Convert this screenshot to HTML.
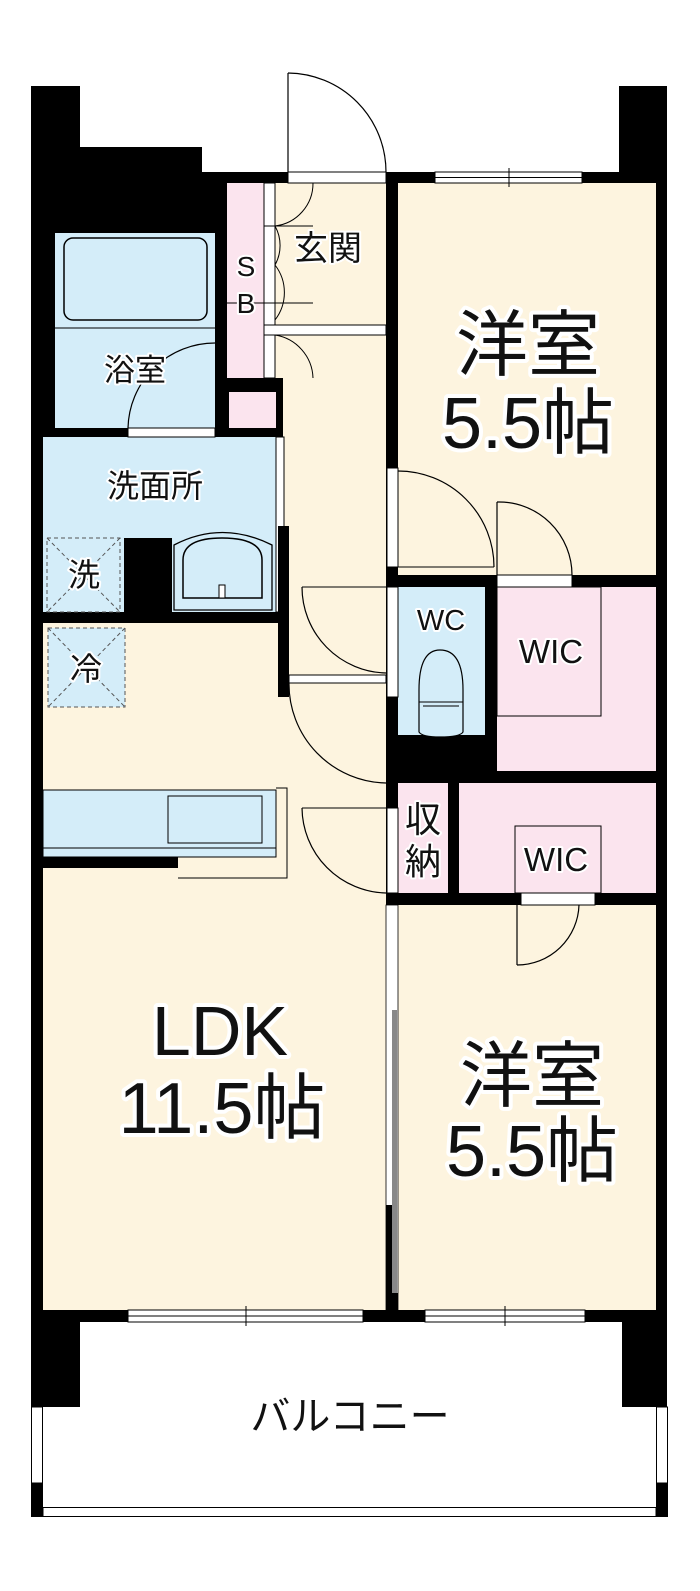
<!DOCTYPE html>
<html><head><meta charset="utf-8"><style>
html,body{margin:0;padding:0;background:#fff;width:700px;height:1591px;overflow:hidden}
svg{display:block}
text{font-family:"Liberation Sans","Noto Sans CJK JP",sans-serif;fill:#111;text-anchor:middle;paint-order:stroke;stroke:#fff;stroke-linejoin:round}
</style></head><body>
<svg width="700" height="1591" viewBox="0 0 700 1591" xmlns="http://www.w3.org/2000/svg">
<rect x="43" y="183" width="613" height="1127" fill="#fdf4df"/>
<rect x="227" y="183" width="37" height="195" fill="#fbe4ee"/>
<rect x="227" y="378" width="56" height="62" fill="#000"/>
<rect x="229" y="392" width="47" height="40" fill="#fbe4ee"/>
<rect x="398" y="587" width="87" height="148" fill="#d4edf9"/>
<rect x="497" y="587" width="159" height="184" fill="#fbe4ee"/>
<rect x="398" y="783" width="50" height="110" fill="#fbe4ee"/>
<rect x="459" y="783" width="197" height="110" fill="#fbe4ee"/>

<rect x="31" y="86" width="49" height="1224" fill="#000"/>
<rect x="31" y="147" width="171" height="86" fill="#000"/>
<rect x="31" y="172" width="196" height="61" fill="#000"/>
<rect x="215" y="172" width="12" height="268" fill="#000"/>
<rect x="227" y="172" width="61" height="11" fill="#000"/>
<rect x="386" y="172" width="281" height="11" fill="#000"/>
<rect x="619" y="86" width="48" height="97" fill="#000"/>
<rect x="656" y="86" width="11" height="1236" fill="#000"/>
<rect x="43" y="437" width="233" height="175" fill="#d4edf9"/>
<rect x="43" y="623" width="246" height="687" fill="#fdf4df"/>
<rect x="55" y="233" width="160" height="195" fill="#d4edf9"/>
<rect x="43" y="428" width="240" height="9" fill="#000"/>
<rect x="128" y="428" width="87" height="9" fill="#fff" stroke="#000" stroke-width="1"/>

<rect x="64" y="238" width="143" height="82" rx="9" fill="none" stroke="#000" stroke-width="1.5"/>
<line x1="55" y1="328" x2="215" y2="328" stroke="#000" stroke-width="1"/>
<path d="M128,428 A87,87 0 0 1 215,343" fill="none" stroke="#000" stroke-width="1.2"/>

<rect x="264" y="183" width="11" height="195" fill="#fff" stroke="#000" stroke-width="1"/>
<line x1="264" y1="226" x2="313" y2="226" stroke="#000" stroke-width="1"/>
<line x1="227" y1="303" x2="313" y2="303" stroke="#000" stroke-width="1"/>
<rect x="264" y="325" width="122" height="10" fill="#fff" stroke="#000" stroke-width="1"/>
<path d="M275,226 A43,43 0 0 0 313,183" fill="none" stroke="#000" stroke-width="1"/>
<path d="M275,265 A45,45 0 0 1 275,320 M275,226 A40,40 0 0 1 275,265" fill="none" stroke="#000" stroke-width="1"/>
<path d="M275,335 A45,45 0 0 1 313,378" fill="none" stroke="#000" stroke-width="1"/>
<rect x="288" y="172" width="98" height="11" fill="#fff" stroke="#000" stroke-width="1"/>
<line x1="288" y1="73" x2="288" y2="172" stroke="#000" stroke-width="1.2"/>
<path d="M288,73 A99,99 0 0 1 386,172" fill="none" stroke="#000" stroke-width="1.2"/>
<rect x="386" y="172" width="12" height="1150" fill="#000"/>

<rect x="276" y="437" width="8" height="175" fill="#fff" stroke="#000" stroke-width="1"/>
<rect x="278" y="526" width="11" height="171" fill="#000"/>
<rect x="43" y="612" width="246" height="11" fill="#000"/>
<rect x="47" y="538" width="73" height="74" fill="#d4edf9" stroke="#555" stroke-width="1" stroke-dasharray="4,3"/>
<path d="M47,538 L120,612 M120,538 L47,612" stroke="#555" stroke-width="1" stroke-dasharray="4,3"/>
<rect x="124" y="538" width="48" height="74" fill="#000"/>
<path d="M174,610 L174,545 Q222,520 272,545 L272,610 Z" fill="#d4edf9" stroke="#000" stroke-width="1.3"/>
<path d="M183,598 L183,560 Q183,538 222,538 Q262,538 262,560 L262,598 Z" fill="none" stroke="#000" stroke-width="1.5"/>
<rect x="219" y="585" width="6" height="13" fill="#fff" stroke="#000" stroke-width="1"/>
<rect x="48" y="628" width="77" height="79" fill="#d4edf9" stroke="#555" stroke-width="1" stroke-dasharray="4,3"/>
<path d="M48,628 L125,707 M125,628 L48,707" stroke="#555" stroke-width="1" stroke-dasharray="4,3"/>
<rect x="43" y="790" width="233" height="67" fill="#d4edf9" stroke="#000" stroke-width="1"/>
<rect x="168" y="796" width="94" height="47" fill="#d4edf9" stroke="#000" stroke-width="1"/>
<line x1="43" y1="848" x2="276" y2="848" stroke="#000" stroke-width="1"/>
<rect x="43" y="857" width="135" height="11" fill="#000"/>
<path d="M276,788 L287,788 L287,878 L178,878" fill="none" stroke="#000" stroke-width="1"/>

<line x1="302" y1="587" x2="386" y2="587" stroke="#000" stroke-width="1"/>
<path d="M302,587 A86,86 0 0 0 386,673" fill="none" stroke="#000" stroke-width="1.2"/>
<rect x="289" y="675" width="97" height="8" fill="#fff" stroke="#000" stroke-width="1"/>
<path d="M289,683 A99,99 0 0 0 386,783" fill="none" stroke="#000" stroke-width="1.2"/>
<line x1="302" y1="808" x2="386" y2="808" stroke="#000" stroke-width="1"/>
<path d="M302,808 A86,86 0 0 0 386,893" fill="none" stroke="#000" stroke-width="1.2"/>

<rect x="386" y="575" width="281" height="12" fill="#000"/>
<rect x="485" y="587" width="12" height="196" fill="#000"/>
<rect x="386" y="735" width="111" height="48" fill="#000"/>
<rect x="386" y="771" width="281" height="12" fill="#000"/>
<rect x="448" y="783" width="11" height="110" fill="#000"/>
<rect x="386" y="893" width="281" height="12" fill="#000"/>
<rect x="497" y="587" width="104" height="129" fill="none" stroke="#000" stroke-width="1"/>
<rect x="515" y="826" width="86" height="67" fill="none" stroke="#000" stroke-width="1"/>
<rect x="521" y="893" width="74" height="12" fill="#fff" stroke="#000" stroke-width="1"/>
<path d="M419,732 L419,690 Q419,650 440,650 Q463,650 463,690 L463,732 Q460,737 440,737 Q422,737 419,732 Z" fill="#d4edf9" stroke="#000" stroke-width="1.2"/>
<line x1="419" y1="702" x2="463" y2="702" stroke="#000" stroke-width="1"/>
<line x1="423" y1="706" x2="459" y2="706" stroke="#000" stroke-width="1"/>
<rect x="387" y="468" width="11" height="99" fill="#fff" stroke="#000" stroke-width="1"/>
<path d="M398,471 A96,96 0 0 1 494,567" fill="none" stroke="#000" stroke-width="1.2"/>
<line x1="398" y1="567" x2="494" y2="567" stroke="#000" stroke-width="1"/>
<rect x="497" y="575" width="75" height="12" fill="#fff" stroke="#000" stroke-width="1"/>
<line x1="497" y1="502" x2="497" y2="575" stroke="#000" stroke-width="1.2"/>
<path d="M497,502 A73,73 0 0 1 572,575" fill="none" stroke="#000" stroke-width="1.2"/>
<rect x="387" y="587" width="11" height="110" fill="#fff" stroke="#000" stroke-width="1"/>
<rect x="387" y="808" width="11" height="85" fill="#fff" stroke="#000" stroke-width="1"/>
<line x1="517" y1="905" x2="517" y2="965" stroke="#000" stroke-width="1.2"/>
<path d="M517,965 A62,62 0 0 0 579,905" fill="none" stroke="#000" stroke-width="1.2"/>

<rect x="386" y="905" width="12" height="405" fill="#fff" stroke="#000" stroke-width="0.8"/>
<rect x="392" y="1010" width="5" height="300" fill="#888"/>
<rect x="386" y="1205" width="6" height="105" fill="#000"/>
<rect x="386" y="1293" width="12" height="17" fill="#000"/>

<rect x="435" y="172" width="147" height="11" fill="#fff" stroke="#000" stroke-width="1"/>
<line x1="435" y1="177.5" x2="582" y2="177.5" stroke="#000" stroke-width="1"/>
<line x1="509" y1="168" x2="509" y2="187" stroke="#000" stroke-width="1"/>

<rect x="31" y="1310" width="636" height="12" fill="#000"/>
<rect x="31" y="1310" width="49" height="97" fill="#000"/>
<rect x="622" y="1310" width="45" height="97" fill="#000"/>
<rect x="128" y="1310" width="235" height="12" fill="#fff" stroke="#000" stroke-width="1"/>
<line x1="128" y1="1316" x2="363" y2="1316" stroke="#000" stroke-width="1"/>
<line x1="246" y1="1306" x2="246" y2="1326" stroke="#000" stroke-width="1"/>
<rect x="425" y="1310" width="160" height="12" fill="#fff" stroke="#000" stroke-width="1"/>
<line x1="425" y1="1316" x2="585" y2="1316" stroke="#000" stroke-width="1"/>
<line x1="505" y1="1306" x2="505" y2="1326" stroke="#000" stroke-width="1"/>
<rect x="31.5" y="1407" width="11" height="76" fill="#fff" stroke="#000" stroke-width="1"/>
<rect x="656.5" y="1407" width="11" height="76" fill="#fff" stroke="#000" stroke-width="1"/>
<rect x="31" y="1483" width="12" height="34" fill="#000"/>
<rect x="656" y="1483" width="12" height="34" fill="#000"/>
<rect x="43" y="1507.5" width="613" height="9" fill="#fff" stroke="#000" stroke-width="1"/>

<text x="135" y="381" font-size="31" stroke-width="4">浴室</text>
<text x="246" y="276" font-size="28" stroke-width="4">S</text>
<text x="246" y="313" font-size="28" stroke-width="4">B</text>
<text x="328" y="260" font-size="34" stroke-width="4">玄関</text>
<text x="155" y="497" font-size="32" stroke-width="4">洗面所</text>
<text x="84" y="586" font-size="32" stroke-width="4">洗</text>
<text x="86" y="680" font-size="32" stroke-width="4">冷</text>
<text x="441" y="630" font-size="29" stroke-width="4">WC</text>
<text x="551" y="663" font-size="33" stroke-width="4">WIC</text>
<text x="556" y="871" font-size="33" stroke-width="4">WIC</text>
<text x="423" y="832" font-size="36" stroke-width="4">収</text>
<text x="423" y="874" font-size="36" stroke-width="4">納</text>
<text x="528" y="370" font-size="72" stroke-width="8">洋室</text>
<text x="528" y="448" font-size="72" stroke-width="8">5.5帖</text>
<text x="220" y="1055" font-size="70" stroke-width="8">LDK</text>
<text x="222" y="1133" font-size="72" stroke-width="8">11.5帖</text>
<text x="532" y="1101" font-size="72" stroke-width="8">洋室</text>
<text x="532" y="1176" font-size="72" stroke-width="8">5.5帖</text>
<text x="350" y="1430" font-size="40" stroke-width="0">バルコニー</text>
</svg>
</body></html>
